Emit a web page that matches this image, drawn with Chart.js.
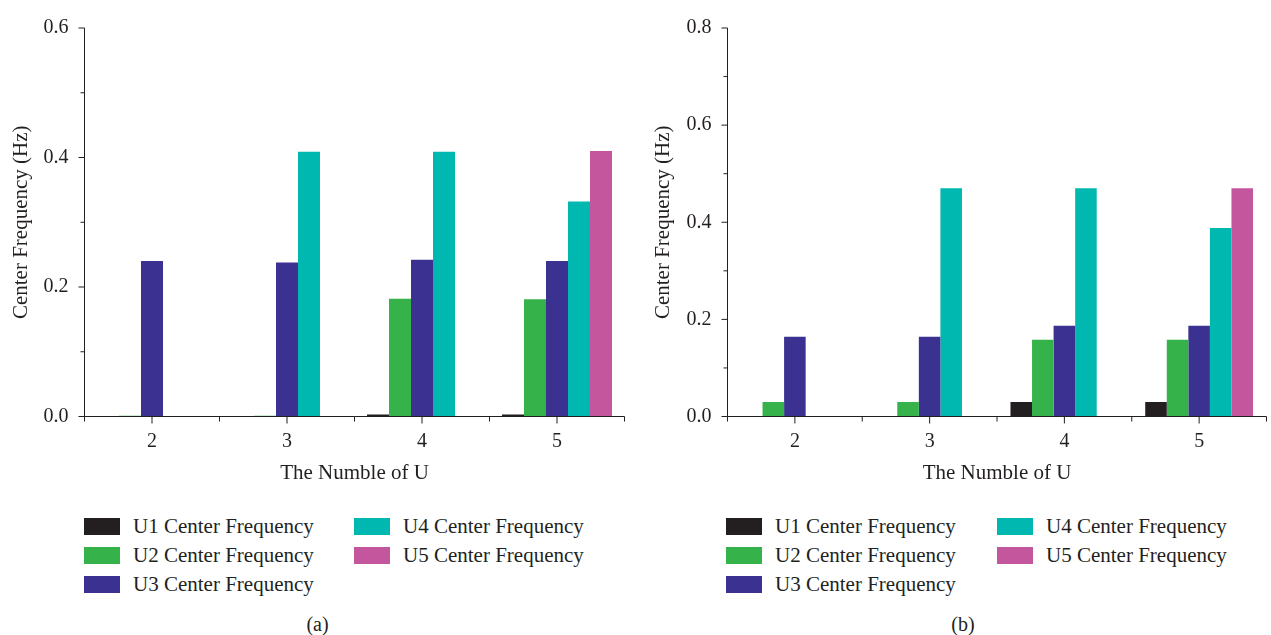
<!DOCTYPE html>
<html>
<head>
<meta charset="utf-8">
<script src="https://cdn.jsdelivr.net/npm/chart.js@4/dist/chart.umd.min.js"></script>
<style>
  html, body { margin: 0; padding: 0; background: #fff; }
  body { width: 1271px; height: 635px; position: relative; overflow: hidden;
         font-family: 'Liberation Serif', 'DejaVu Serif', serif; color: #231f20; }
  .panel { position: absolute; top: 0; height: 635px; }
  .panel canvas { position: absolute; left: 0; top: 0; }
  .item { position: absolute; height: 17px; display: flex; align-items: center; white-space: nowrap; }
  .swatch { width: 36px; height: 17px; flex: none; }
  .label { margin-left: 13px; font-size: 21px; line-height: 1; }
  .caption { position: absolute; font-size: 20px; line-height: 1; transform: translate(-50%, -50%); white-space: nowrap; }
</style>
</head>
<body>
<div class="panel" id="panelA" style="left:0;width:635px"><canvas id="chartA" width="635" height="490"></canvas></div>
<div class="panel" id="panelB" style="left:635px;width:636px"><canvas id="chartB" width="636" height="490"></canvas></div>
<script>
// Number of U (category axis)
const categories = ['2', '3', '4', '5'];

const seriesNames = ['U1 Center Frequency', 'U2 Center Frequency', 'U3 Center Frequency',
                     'U4 Center Frequency', 'U5 Center Frequency'];
const seriesColors = ['#231f20', '#35b34a', '#3a3190', '#00b8b0', '#c4569e'];

// Panel (a): center frequency of each mode (Hz)
const a_U1 = [null, null, 0.003, 0.003];
const a_U2 = [0.001, 0.001, 0.182, 0.181];
const a_U3 = [0.240, 0.238, 0.242, 0.240];
const a_U4 = [null, 0.409, 0.409, 0.332];
const a_U5 = [null, null, null, 0.410];

// Panel (b): center frequency of each mode (Hz)
const b_U1 = [null, null, 0.030, 0.030];
const b_U2 = [0.030, 0.030, 0.158, 0.158];
const b_U3 = [0.164, 0.164, 0.187, 0.187];
const b_U4 = [null, 0.470, 0.470, 0.388];
const b_U5 = [null, null, null, 0.470];

// Major y tick labels
const yTicksA = [0.0, 0.2, 0.4, 0.6];
const yTicksB = [0.0, 0.2, 0.4, 0.6, 0.8];

const xTitle = 'The Numble of U';
const yTitle = 'Center Frequency (Hz)';

const INK = '#231f20';
const CANVAS_H = 490;

// Axis lines plus outward major/minor tick marks, drawn over the bars
const axisTicks = {
  id: 'axisTicks',
  afterDatasetsDraw(chart) {
    const { ctx, chartArea: ca, scales: { x, y } } = chart;
    ctx.save();
    ctx.strokeStyle = INK;
    ctx.lineWidth = 1;
    ctx.beginPath();
    ctx.moveTo(ca.left, ca.top);
    ctx.lineTo(ca.left, ca.bottom);
    ctx.lineTo(ca.right, ca.bottom);
    const major = y.ticks.map(t => t.value);
    major.forEach((v, i) => {
      const py = y.getPixelForValue(v);
      ctx.moveTo(ca.left, py); ctx.lineTo(ca.left - 6, py);
      if (i < major.length - 1) {
        const pm = y.getPixelForValue((v + major[i + 1]) / 2);
        ctx.moveTo(ca.left, pm); ctx.lineTo(ca.left - 4, pm);
      }
    });
    const n = chart.data.labels.length;
    for (let i = 0; i < n; i++) {
      const px = x.getPixelForValue(i);
      ctx.moveTo(px, ca.bottom); ctx.lineTo(px, ca.bottom + 7);
    }
    for (let i = 0; i <= n; i++) {
      const px = x.getPixelForValue(i - 0.5);
      ctx.moveTo(px, ca.bottom); ctx.lineTo(px, ca.bottom + 5);
    }
    ctx.stroke();
    ctx.restore();
  }
};

function makeChart(canvasId, series, yTicks, geo) {
  return new Chart(document.getElementById(canvasId), {
    type: 'bar',
    data: {
      labels: categories,
      datasets: series.map((d, i) => ({
        label: seriesNames[i],
        data: d,
        backgroundColor: seriesColors[i],
        borderWidth: 0,
        categoryPercentage: geo.groupShare,
        barPercentage: 1
      }))
    },
    options: {
      responsive: false,
      animation: false,
      devicePixelRatio: 1,
      layout: { padding: { top: geo.top, right: geo.right, bottom: 0, left: 0 } },
      plugins: { legend: { display: false }, tooltip: { enabled: false } },
      scales: {
        x: {
          grid: { display: false, drawTicks: false },
          border: { display: false },
          ticks: { padding: 13, color: INK, maxRotation: 0, font: { size: 20 } },
          title: { display: true, text: xTitle, color: INK, font: { size: 21 }, padding: { top: 0, bottom: 4 } },
          afterFit(s) { s.height = CANVAS_H - geo.bottom; }
        },
        y: {
          min: yTicks[0],
          max: yTicks[yTicks.length - 1],
          afterBuildTicks(s) { s.ticks = yTicks.map(v => ({ value: v })); },
          grid: { display: false, drawTicks: false },
          border: { display: false },
          ticks: { padding: 16, color: INK, font: { size: 20 }, callback: v => Number(v).toFixed(1) },
          title: { display: true, text: yTitle, color: INK, font: { size: 21 }, padding: { top: geo.titlePad, bottom: 0 } },
          afterFit(s) { s.width = geo.left; }
        }
      }
    },
    plugins: [axisTicks]
  });
}

Chart.defaults.font.family = "'Liberation Serif', 'DejaVu Serif', serif";
Chart.defaults.color = INK;

const chartA = makeChart('chartA', [a_U1, a_U2, a_U3, a_U4, a_U5], yTicksA,
  { left: 84.5, right: 10.5, top: 23, bottom: 416.5, titlePad: 9, groupShare: 0.815 });
const chartB = makeChart('chartB', [b_U1, b_U2, b_U3, b_U4, b_U5], yTicksB,
  { left: 92.5, right: 4.5, top: 23, bottom: 416.5, titlePad: 16, groupShare: 0.80 });

// Two-column legend (U1-U3 | U4-U5) and panel caption
function buildLegend(panelId, chart, colX, caption, captionX) {
  const panel = document.getElementById(panelId);
  const rowTop = [518, 547, 576];
  chart.data.datasets.forEach((ds, i) => {
    const col = i < 3 ? 0 : 1;
    const row = i < 3 ? i : i - 3;
    const item = document.createElement('div');
    item.className = 'item';
    item.style.left = colX[col] + 'px';
    item.style.top = rowTop[row] + 'px';
    const sw = document.createElement('div');
    sw.className = 'swatch';
    sw.style.background = ds.backgroundColor;
    const lb = document.createElement('span');
    lb.className = 'label';
    lb.textContent = ds.label;
    item.appendChild(sw);
    item.appendChild(lb);
    panel.appendChild(item);
  });
  const cap = document.createElement('div');
  cap.className = 'caption';
  cap.style.left = captionX + 'px';
  cap.style.top = '624px';
  cap.textContent = caption;
  panel.appendChild(cap);
}

buildLegend('panelA', chartA, [84, 354], '(a)', 317.5);
buildLegend('panelB', chartB, [91, 362], '(b)', 328);
</script>
</body>
</html>
